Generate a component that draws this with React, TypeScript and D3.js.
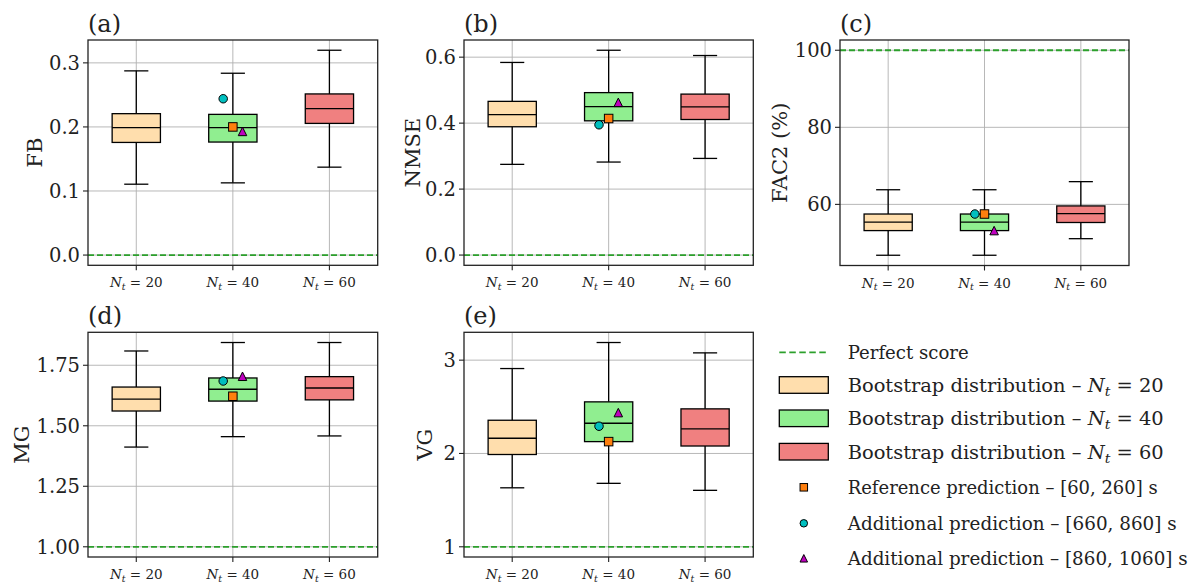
import React from 'react';
import * as d3 from 'd3';

// ---------- DATA ----------
const categories = ['20', '40', '60'];
// [lower whisker, Q1, median, Q3, upper whisker]
const fbStats = [
  [0.1106, 0.1758, 0.199, 0.2207, 0.2875],
  [0.1127, 0.1764, 0.199, 0.2196, 0.2838],
  [0.1372, 0.2055, 0.2285, 0.2515, 0.3197],
];
const nmseStats = [
  [0.275, 0.389, 0.426, 0.466, 0.584],
  [0.282, 0.407, 0.45, 0.4925, 0.621],
  [0.293, 0.411, 0.449, 0.488, 0.605],
];
const fac2Stats = [
  [46.8, 53.2, 55.4, 57.5, 63.8],
  [46.8, 53.2, 55.4, 57.5, 63.8],
  [51.1, 55.3, 57.6, 59.6, 65.9],
];
const mgStats = [
  [1.412, 1.561, 1.6105, 1.66, 1.809],
  [1.455, 1.602, 1.651, 1.6975, 1.844],
  [1.458, 1.607, 1.656, 1.703, 1.844],
];
const vgStats = [
  [1.632, 1.989, 2.163, 2.356, 2.91],
  [1.68, 2.127, 2.324, 2.553, 3.189],
  [1.605, 2.08, 2.263, 2.478, 3.078],
];
// predictions at N_t = 40: [reference, additional 660-860, additional 860-1060]
const fbPred = [0.2, 0.244, 0.193];
const nmsePred = [0.414, 0.395, 0.463];
const fac2Pred = [57.5, 57.5, 53.2];
const mgPred = [1.622, 1.685, 1.7045];
const vgPred = [2.127, 2.292, 2.438];
const perfectScores = [0, 0, 100, 1, 1];
const fbTicks = [0, 0.1, 0.2, 0.3];
const nmseTicks = [0, 0.2, 0.4, 0.6];
const fac2Ticks = [60, 80, 100];
const mgTicks = [1.0, 1.25, 1.5, 1.75];
const vgTicks = [1, 2, 3];
const legendLabels = [
  'Perfect score',
  'Bootstrap distribution – ',
  'Bootstrap distribution – ',
  'Bootstrap distribution – ',
  'Reference prediction – [60, 260] s',
  'Additional prediction – [660, 860] s',
  'Additional prediction – [860, 1060] s',
];

// ---------- STYLE / LAYOUT ----------
const boxColors = ['#FFDEAD', '#90EE90', '#F08080'];
const markerColors = ['#FF7F0E', '#00BFBF', '#BF00BF'];
const green = '#2CA02C';
const FONT = "'DejaVu Serif', 'Liberation Serif', serif";
const FS = 19.5;
const LFS = 18;
const legendTextWidths = [121, 316, 316, 316, 310, 329, 340];

const panels = [
  { label: '(a)', ylabel: 'FB', stats: fbStats, pred: fbPred, ticks: fbTicks, fmt: '.1f', perfect: perfectScores[0], box: [88, 40, 377.7, 265.3], ylx: 53 },
  { label: '(b)', ylabel: 'NMSE', stats: nmseStats, pred: nmsePred, ticks: nmseTicks, fmt: '.1f', perfect: perfectScores[1], box: [464, 40, 753.3, 265.3], ylx: 51 },
  { label: '(c)', ylabel: 'FAC2 (%)', stats: fac2Stats, pred: fac2Pred, ticks: fac2Ticks, fmt: 'd', perfect: perfectScores[2], box: [840, 40, 1129, 265.5], ylx: 60 },
  { label: '(d)', ylabel: 'MG', stats: mgStats, pred: mgPred, ticks: mgTicks, fmt: '.2f', perfect: perfectScores[3], box: [88, 332.3, 377.7, 557], ylx: 66 },
  { label: '(e)', ylabel: 'VG', stats: vgStats, pred: vgPred, ticks: vgTicks, fmt: 'd', perfect: perfectScores[4], box: [464, 332.3, 753.3, 557], ylx: 39 },
];

const markerOffsets = [0, -0.1, 0.1];

function Marker({ kind, x, y, size }: { kind: number; x: number; y: number; size: number }) {
  const h = size / 2;
  const common = { fill: markerColors[kind], stroke: '#000', strokeWidth: 1 };
  if (kind === 0) return <rect x={x - h} y={y - h} width={size} height={size} {...common} />;
  if (kind === 1) return <circle cx={x} cy={y} r={h} {...common} />;
  return <path d={`M${x},${y - h}L${x - h},${y + h}L${x + h},${y + h}Z`} {...common} />;
}

function NtLabel({ x, y, value, size }: { x: number; y: number; value: string; size: number }) {
  return (
    <text x={x} y={y} textAnchor="middle" fontFamily={FONT} fontSize={size} fill="#222">
      <tspan fontStyle="italic">N</tspan>
      <tspan fontStyle="italic" fontSize={size * 0.7} dy={size * 0.22}>t</tspan>
      <tspan dy={-size * 0.22}>{' = ' + value}</tspan>
    </text>
  );
}

function Panel({ p }: { p: (typeof panels)[number] }) {
  const [x0, y0, x1, y1] = p.box;
  const all = p.stats.flat().concat(p.pred, [p.perfect]);
  const lo = d3.min(all) as number;
  const hi = d3.max(all) as number;
  const pad = (hi - lo) * 0.05;
  const y = d3.scaleLinear().domain([lo - pad, hi + pad]).range([y1, y0]);
  const x = d3.scaleLinear().domain([0.5, 3.5]).range([x0, x1]);
  const fmt = d3.format(p.fmt);
  const bw = 0.25;
  const cw = 0.125;
  return (
    <g>
      {p.ticks.map((t) => (
        <line key={'gy' + t} x1={x0} x2={x1} y1={y(t)} y2={y(t)} stroke="#b0b0b0" strokeWidth={0.9} />
      ))}
      {categories.map((c, i) => (
        <line key={'gx' + c} x1={x(i + 1)} x2={x(i + 1)} y1={y0} y2={y1} stroke="#b0b0b0" strokeWidth={0.9} />
      ))}
      <line x1={x0} x2={x1} y1={y(p.perfect)} y2={y(p.perfect)} stroke={green} strokeWidth={1.8} strokeDasharray="6,3" />
      {p.stats.map((s, i) => {
        const cx = i + 1;
        return (
          <g key={'b' + i} stroke="#000" strokeWidth={1.3}>
            <line x1={x(cx)} x2={x(cx)} y1={y(s[0])} y2={y(s[1])} />
            <line x1={x(cx)} x2={x(cx)} y1={y(s[3])} y2={y(s[4])} />
            <line x1={x(cx - cw)} x2={x(cx + cw)} y1={y(s[0])} y2={y(s[0])} />
            <line x1={x(cx - cw)} x2={x(cx + cw)} y1={y(s[4])} y2={y(s[4])} />
            <rect x={x(cx - bw)} y={y(s[3])} width={x(cx + bw) - x(cx - bw)} height={y(s[1]) - y(s[3])} fill={boxColors[i]} />
            <line x1={x(cx - bw)} x2={x(cx + bw)} y1={y(s[2])} y2={y(s[2])} />
          </g>
        );
      })}
      {p.pred.map((v, k) => (
        <Marker key={'m' + k} kind={k} x={x(2 + markerOffsets[k])} y={y(v)} size={8.5} />
      ))}
      <rect x={x0} y={y0} width={x1 - x0} height={y1 - y0} fill="none" stroke="#222" strokeWidth={1.3} />
      {p.ticks.map((t) => (
        <g key={'ty' + t}>
          <line x1={x0 - 5} x2={x0} y1={y(t)} y2={y(t)} stroke="#222" strokeWidth={1.1} />
          <text x={x0 - 8} y={y(t) + 7} textAnchor="end" fontFamily={FONT} fontSize={FS} fill="#222">
            {fmt(t)}
          </text>
        </g>
      ))}
      {categories.map((c, i) => (
        <g key={'tx' + c}>
          <line x1={x(i + 1)} x2={x(i + 1)} y1={y1} y2={y1 + 5} stroke="#222" strokeWidth={1.1} />
          <NtLabel x={x(i + 1)} y={y1 + 22} value={c} size={13.5} />
        </g>
      ))}
      <text
        transform={`translate(${x0 - p.ylx + 7},${(y0 + y1) / 2}) rotate(-90)`}
        textAnchor="middle"
        fontFamily={FONT}
        fontSize={21}
        fill="#222"
      >
        {p.ylabel}
      </text>
      <text x={x0} y={y0 - 8} fontFamily={FONT} fontSize={24} fill="#222">
        {p.label}
      </text>
    </g>
  );
}

function Legend() {
  const rows = [352.3, 385, 418.3, 451.7, 487.3, 523.3, 558.3];
  const hx0 = 779.3;
  const hx1 = 828.3;
  const tx = 847.7;
  return (
    <g>
      <line x1={hx0} x2={hx1} y1={rows[0]} y2={rows[0]} stroke={green} strokeWidth={1.8} strokeDasharray="6.5,3.5" />
      {[0, 1, 2].map((i) => (
        <rect key={'lp' + i} x={hx0} y={rows[i + 1] - 8.3} width={hx1 - hx0} height={16.6} fill={boxColors[i]} stroke="#000" strokeWidth={1.3} />
      ))}
      {[0, 1, 2].map((k) => (
        <Marker key={'lm' + k} kind={k} x={(hx0 + hx1) / 2} y={rows[k + 4]} size={7.5} />
      ))}
      {legendLabels.map((lab, i) => (
        <text
          key={'lt' + i}
          x={tx}
          y={rows[i] + 7}
          fontFamily={FONT}
          fontSize={LFS}
          fill="#222"
          textLength={legendTextWidths[i]}
          lengthAdjust="spacingAndGlyphs"
        >
          {lab}
          {i >= 1 && i <= 3 ? (
            <>
              <tspan fontStyle="italic">N</tspan>
              <tspan fontStyle="italic" fontSize={13} dy={4}>t</tspan>
              <tspan dy={-4}>{' = ' + categories[i - 1]}</tspan>
            </>
          ) : null}
        </text>
      ))}
    </g>
  );
}

export default function App() {
  return (
    <svg width={1199} height={585} style={{ position: 'absolute', left: 0, top: 0, background: '#fff' }}>
      <rect width={1199} height={585} fill="#fff" />
      {panels.map((p) => (
        <Panel key={p.label} p={p} />
      ))}
      <Legend />
    </svg>
  );
}
